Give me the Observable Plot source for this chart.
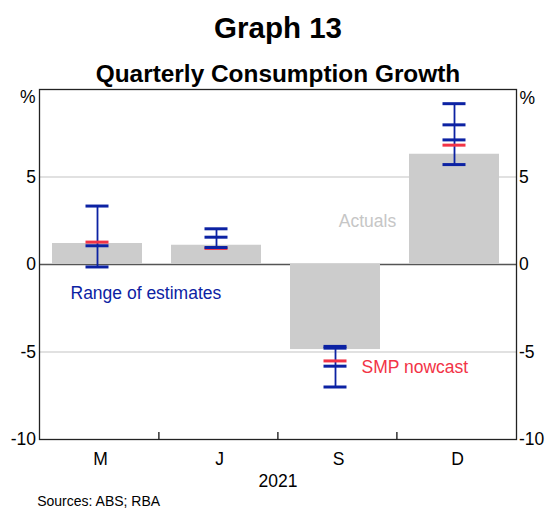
<!DOCTYPE html>
<html>
<head>
<meta charset="utf-8">
<script src="https://cdn.jsdelivr.net/npm/d3@7"></script>
<script src="https://cdn.jsdelivr.net/npm/@observablehq/plot@0.6"></script>
<style>
  html, body { margin: 0; padding: 0; background: #fff; }
</style>
</head>
<body>
<div id="chart"></div>
<script>
const quarters = ["M", "J", "S", "D"];
const actuals = [1.2, 1.1, -4.86, 6.3];
const rangeLow = [-0.14, 0.97, -7.0, 5.71];
const rangeHigh = [3.34, 2.04, -4.68, 9.19];
const nowcast = [1.28, 0.92, -5.51, 6.82];
const estimateQuarter = ["M", "J", "S", "S", "D", "D"];
const estimateValue = [1.07, 1.56, -4.78, -5.81, 7.98, 7.12];
const yTicks = [-10, -5, 0, 5];
const gridLines = [-5, 5];

const BLUE = "#0c22a3";
const RED = "#f23346";
const FONT = "Arial, 'Liberation Sans', Helvetica, sans-serif";
const FS = 17.5;

const rows = quarters.map((q, i) => ({
  q, actual: actuals[i], low: rangeLow[i], high: rangeHigh[i], nowcast: nowcast[i]
}));
const blueTicks = [
  ...rows.map(d => ({q: d.q, v: d.low})),
  ...rows.map(d => ({q: d.q, v: d.high})),
  ...estimateQuarter.map((q, i) => ({q, v: estimateValue[i]}))
];

const capInset = 33.5;
const shift = -2;
const fmt = d => String(d);

const chart = Plot.plot({
  width: 545,
  height: 515,
  marginTop: 89,
  marginBottom: 76,
  marginLeft: 39,
  marginRight: 29,
  style: {fontFamily: FONT, fontSize: FS + "px", color: "#000", background: "#fff", overflow: "visible"},
  x: {domain: quarters, paddingInner: 0.245, paddingOuter: 0.1225, axis: null},
  y: {domain: [-10, 10], axis: null},
  marks: [
    Plot.ruleY(gridLines, {stroke: "#c4c4c4", strokeWidth: 1.2}),
    Plot.ruleY([0], {stroke: "#555", strokeWidth: 1.3}),
    Plot.barY(rows, {x: "q", y: "actual", fill: "#cccccc", dx: shift}),
    Plot.ruleX(rows, {x: "q", y1: "low", y2: "high", stroke: BLUE, strokeWidth: 1.8, dx: shift}),
    Plot.tickY(rows, {x: "q", y: "nowcast", stroke: RED, strokeWidth: 3, insetLeft: capInset, insetRight: capInset, dx: shift}),
    Plot.tickY(blueTicks, {x: "q", y: "v", stroke: BLUE, strokeWidth: 3, insetLeft: capInset, insetRight: capInset, dx: shift}),
    Plot.text([{q: "M", y: -1.63, t: "Range of estimates"}], {x: "q", y: "y", text: "t", fill: BLUE, textAnchor: "start", dx: -29, fontSize: FS}),
    Plot.text([{q: "S", y: 2.45, t: "Actuals"}], {x: "q", y: "y", text: "t", fill: "#c6c6c6", textAnchor: "middle", dx: 30, fontSize: FS}),
    Plot.text([{q: "S", y: -5.88, t: "SMP nowcast"}], {x: "q", y: "y", text: "t", fill: RED, textAnchor: "start", dx: 24, fontSize: FS}),
    Plot.axisY(yTicks, {anchor: "left", tickSize: 0, tickPadding: 3.5, label: null, fontSize: FS, tickFormat: fmt}),
    Plot.axisY(yTicks, {anchor: "right", tickSize: 0, tickPadding: 2.5, label: null, fontSize: FS, tickFormat: fmt}),
    Plot.axisX(quarters, {anchor: "bottom", tickSize: 0, tickPadding: 13, label: null, fontSize: FS, dx: 1}),
    Plot.ruleX(quarters.slice(1), {x: d => d, y1: -10, y2: -9.6, stroke: "#000", strokeWidth: 1.2, dx: -59.6}),
    Plot.frame({stroke: "#222", strokeWidth: 1.3}),
    Plot.text(["%"], {frameAnchor: "top-left", textAnchor: "end", dx: -4, dy: 1, fontSize: FS}),
    Plot.text(["%"], {frameAnchor: "top-right", textAnchor: "start", dx: 3, dy: 2, fontSize: FS}),
    Plot.text(["Graph 13"], {frameAnchor: "top", dy: -72.5, fontSize: 29.5, fontWeight: "bold"}),
    Plot.text(["Quarterly Consumption Growth"], {frameAnchor: "top", dy: -24.8, fontSize: 24.4, fontWeight: "bold"}),
    Plot.text(["2021"], {frameAnchor: "bottom", dy: 47, fontSize: FS}),
    Plot.text(["Sources: ABS; RBA"], {frameAnchor: "bottom-left", textAnchor: "start", dx: -2.3, dy: 66.5, fontSize: 14})
  ]
});
document.getElementById("chart").appendChild(chart);
</script>
</body>
</html>
